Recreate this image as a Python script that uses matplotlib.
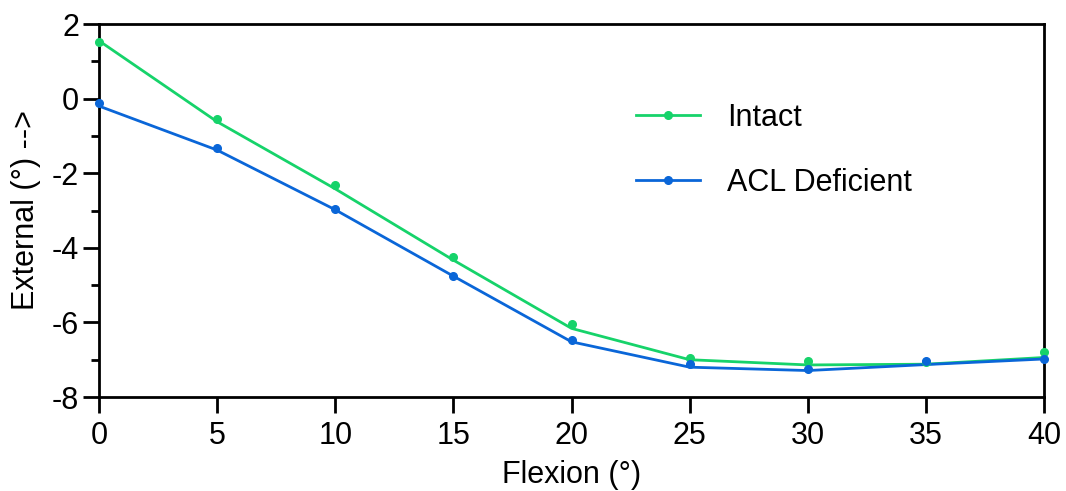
import numpy as np
import matplotlib
matplotlib.use("Agg")
import matplotlib.pyplot as plt
from matplotlib.ticker import MultipleLocator

plt.rcParams['font.family'] = ['Liberation Sans', 'DejaVu Sans']
plt.rcParams['axes.unicode_minus'] = False

flexion = [0, 5, 10, 15, 20, 25, 30, 35, 40]

# measured points
intact_pts = [1.53, -0.55, -2.32, -4.25, -6.04, -6.96, -7.03, -7.05, -6.80]
acl_pts = [-0.11, -1.32, -2.96, -4.76, -6.47, -7.12, -7.26, -7.03, -6.98]

# fitted curves
intact_fit = [1.55, -0.62, -2.42, -4.33, -6.16, -7.00, -7.14, -7.12, -6.94]
acl_fit = [-0.20, -1.38, -2.98, -4.76, -6.52, -7.20, -7.29, -7.13, -6.98]

green = '#16d36a'
blue = '#0a66d8'

fig = plt.figure(figsize=(10.66, 4.91), dpi=100)
ax = fig.add_axes([0.0929, 0.1914, 0.8865, 0.7597])

lw = 2.0
ms = 5.5
ax.plot(flexion, intact_fit, color=green, lw=lw, zorder=2)
ax.plot(flexion, acl_fit, color=blue, lw=lw, zorder=2)
ax.plot(flexion, intact_pts, 'o', color=green, ms=ms, zorder=3, clip_on=False)
ax.plot(flexion, acl_pts, 'o', color=blue, ms=ms, zorder=4, clip_on=False)

# legend proxies
ax.plot([], [], '-o', color=green, lw=lw, ms=ms, label='Intact')
ax.plot([], [], '-o', color=blue, lw=lw, ms=ms, label='ACL Deficient')

ax.set_xlim(0, 40)
ax.set_ylim(-8, 2)
ax.xaxis.set_major_locator(MultipleLocator(5))
ax.yaxis.set_major_locator(MultipleLocator(2))
ax.yaxis.set_minor_locator(MultipleLocator(1))

for s in ax.spines.values():
    s.set_linewidth(2)
ax.tick_params(which='major', direction='out', length=11.5, width=2, labelsize=22, pad=3)
ax.tick_params(axis='x', which='major', pad=6)
ax.tick_params(which='minor', direction='out', length=5.5, width=2)

ax.set_xlabel('Flexion (°)', fontsize=22, labelpad=6)
ax.set_ylabel('External (°) -->', fontsize=22, labelpad=8)

ax.legend(loc='center left', bbox_to_anchor=(0.568, 0.662), frameon=False,
          fontsize=22, handlelength=2.1, handletextpad=0.9, labelspacing=1.15,
          borderpad=0, borderaxespad=0)

fig.savefig('out.png', dpi=100)
